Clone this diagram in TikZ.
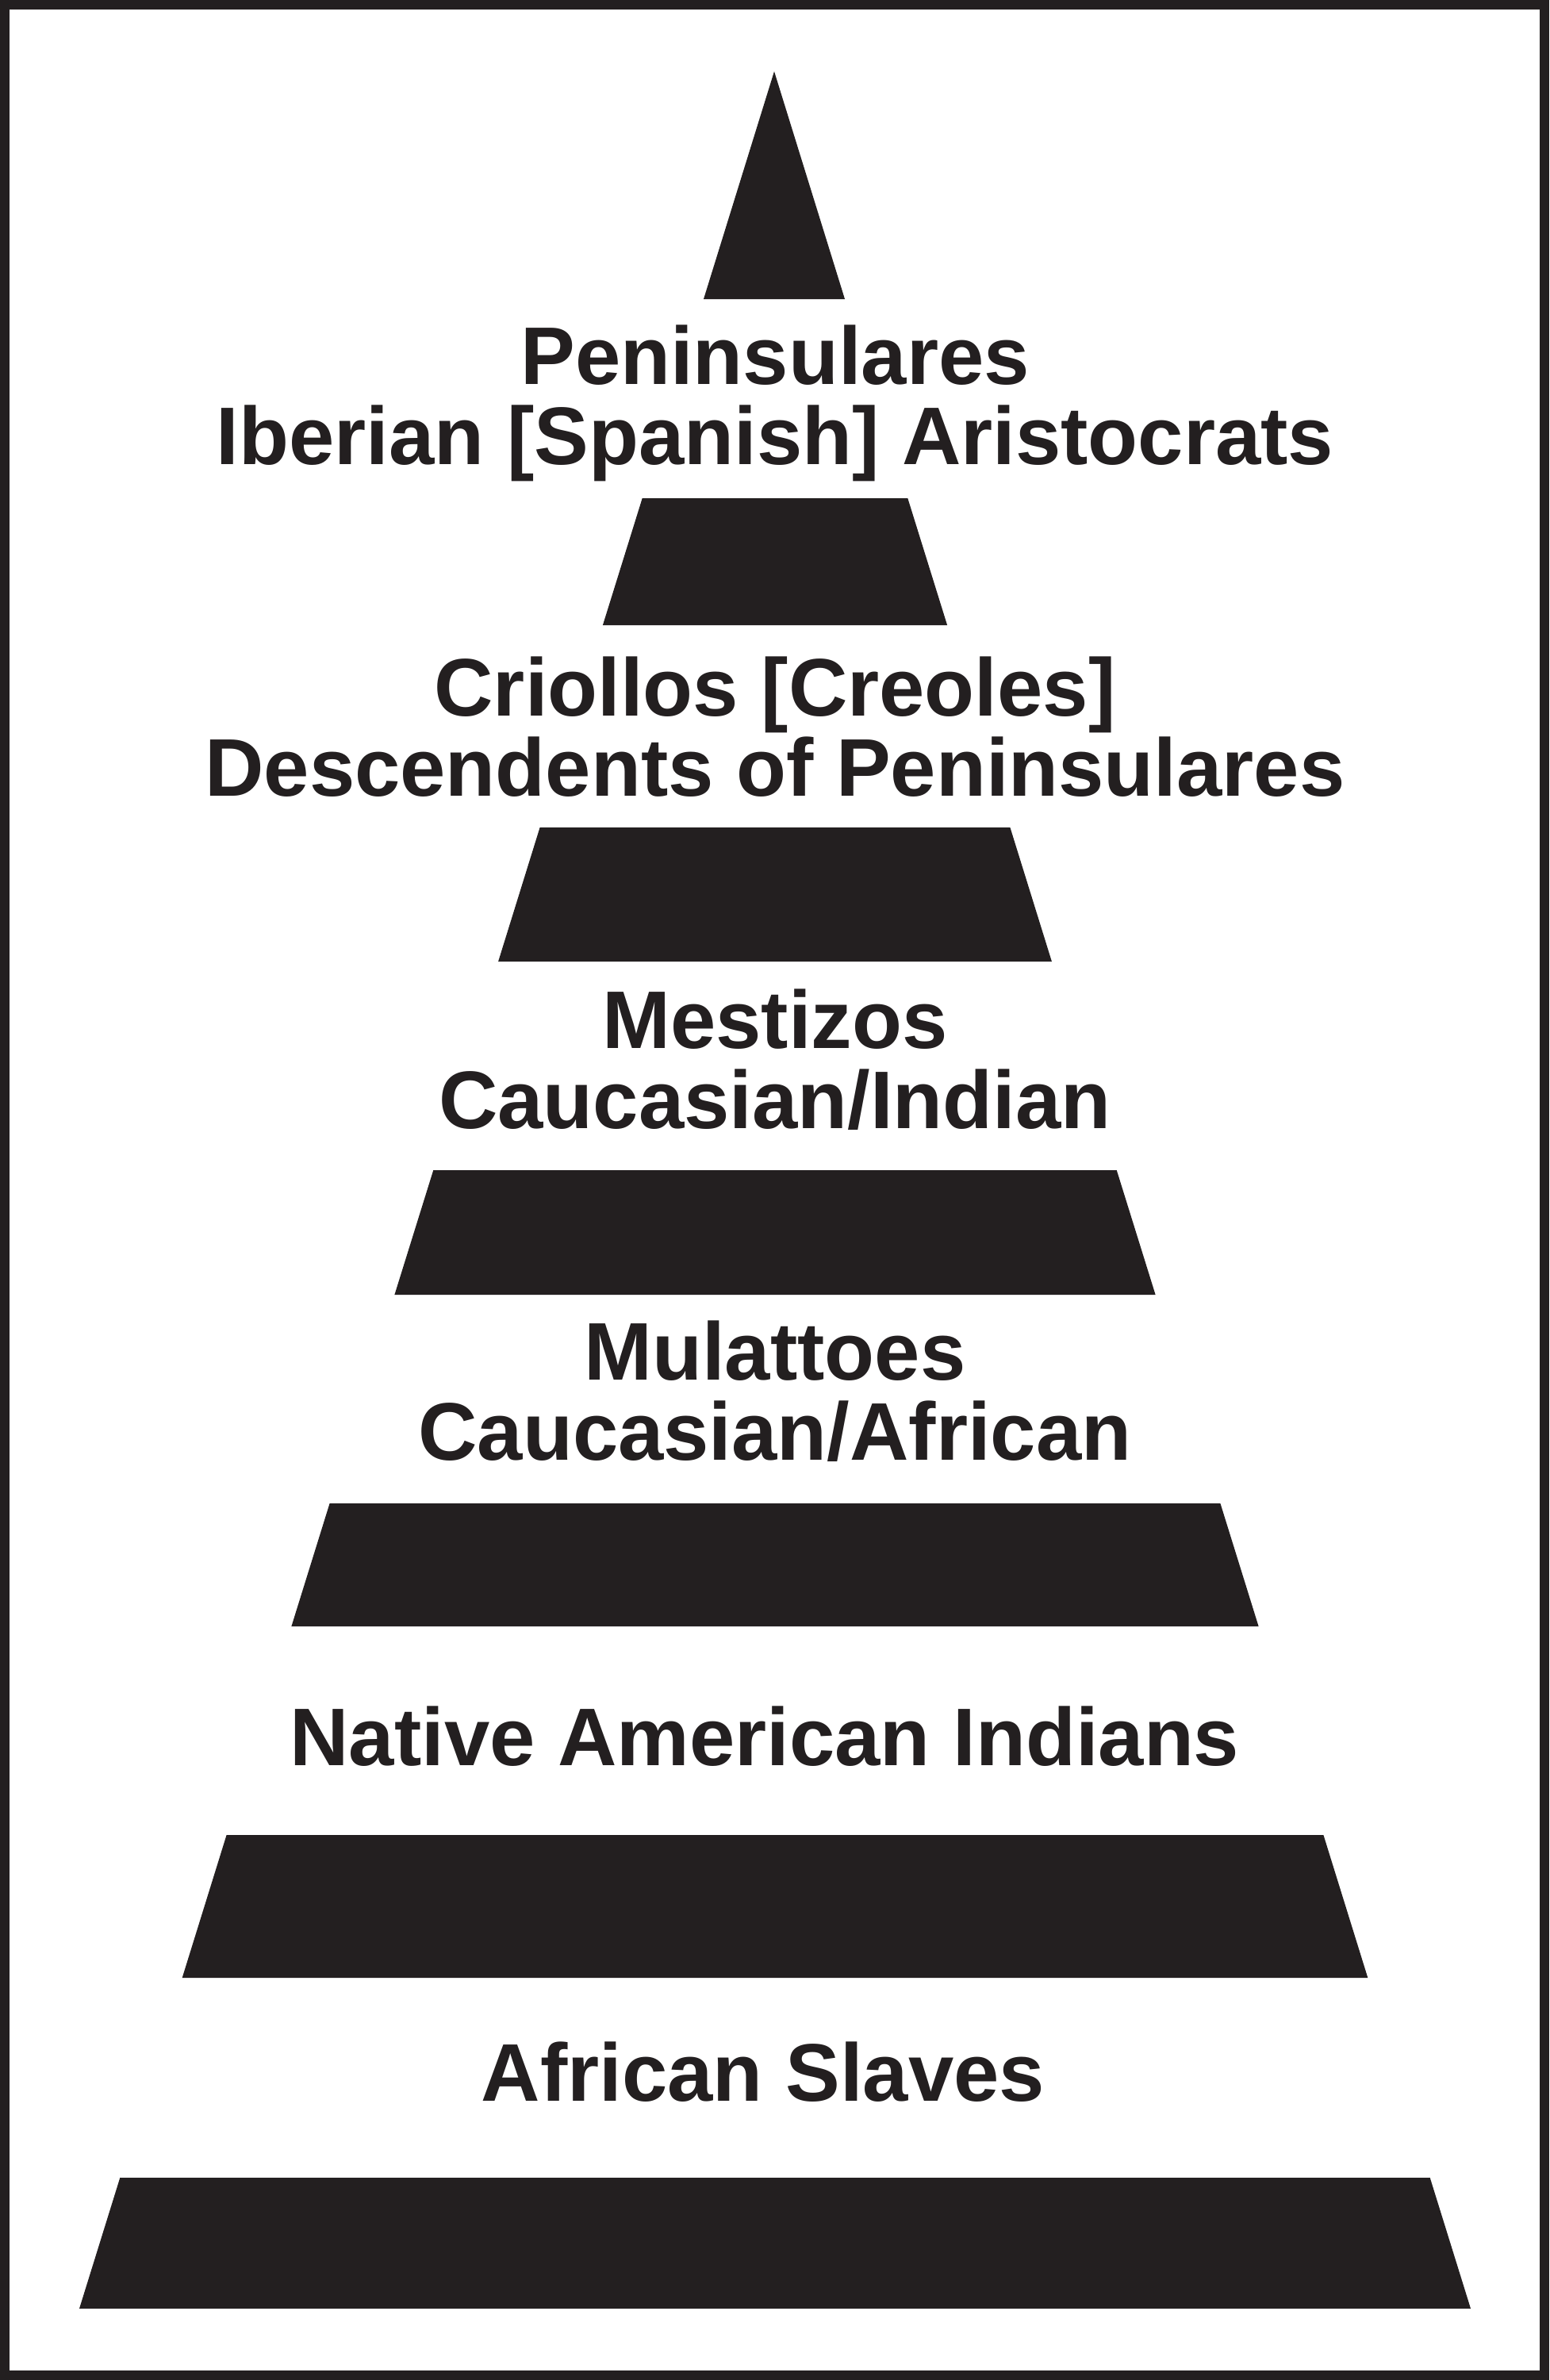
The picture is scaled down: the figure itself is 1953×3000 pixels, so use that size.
\documentclass[tikz,border=0pt]{standalone}
\usepackage{fontspec}
\setmainfont{Liberation Sans}
\definecolor{ink}{HTML}{231F20}
\begin{document}
\begin{tikzpicture}[x=0.01cm,y=-0.01cm,
  band/.style={fill=ink},
  caste/.style={font=\bfseries\fontsize{29.3pt}{28.7pt}\selectfont, text=ink, align=center, inner sep=0pt, anchor=base}]
\useasboundingbox (0,0) rectangle (1953,3000);
\fill[white] (0,0) rectangle (1953,3000);
\draw[line width=0.12cm, ink] (6,6) rectangle (1947,2994);
% pyramid bands
\fill[band] (976,90) -- (1065,377) -- (887,377) -- cycle;
\fill[band] (809.7,628) -- (1144.3,628) -- (1194.1,788) -- (759.9,788) -- cycle;
\fill[band] (680.6,1043) -- (1273.4,1043) -- (1325.9,1212) -- (628.1,1212) -- cycle;
\fill[band] (546.3,1475) -- (1407.7,1475) -- (1456.6,1632) -- (497.4,1632) -- cycle;
\fill[band] (415.6,1895) -- (1538.4,1895) -- (1586.6,2050) -- (367.4,2050) -- cycle;
\fill[band] (285.6,2313) -- (1668.4,2313) -- (1724.3,2493) -- (229.7,2493) -- cycle;
\fill[band] (151.3,2745) -- (1802.7,2745) -- (1854,2910) -- (100,2910) -- cycle;
% labels (anchor base = baseline of the last line)
\node[caste] (pen) at (977,585) {Peninsulares\\Iberian [Spanish] Aristocrats};
\node[caste] (cri) at (977,1003) {Criollos [Creoles]\\Descendents of Peninsulares};
\node[caste] (mes) at (977,1422) {Mestizos\\Caucasian/Indian};
\node[caste] (mul) at (977,1840) {Mulattoes\\Caucasian/African};
\node[caste] (nat) at (964,2225) {Native American Indians};
\node[caste] (afr) at (962,2648) {African Slaves};
\end{tikzpicture}
\end{document}
